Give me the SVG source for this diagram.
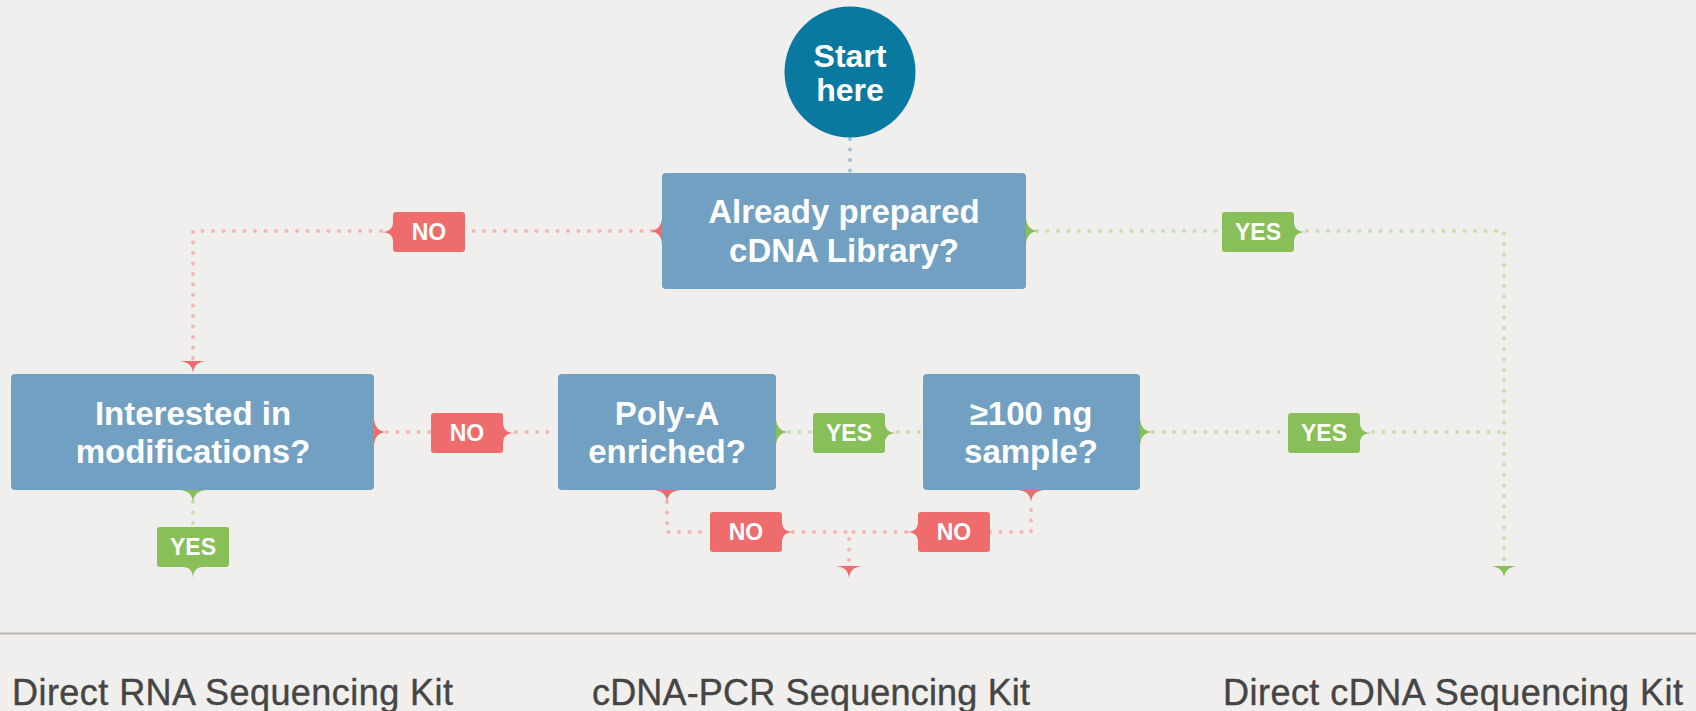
<svg xmlns="http://www.w3.org/2000/svg" xmlns:xlink="http://www.w3.org/1999/xlink" width="1696" height="711" viewBox="0 0 1696 711">
<style>
.bg{fill:#f0efed}
.box{fill:#72a0c2}
.start{fill:#0a79a0}
.nt{font-family:"Liberation Sans",Arial,sans-serif;font-weight:bold;font-size:33px;fill:#ffffff;text-anchor:middle}
.st{font-family:"Liberation Sans",Arial,sans-serif;font-weight:bold;font-size:32px;fill:#ffffff;text-anchor:middle}
.tt{font-family:"Liberation Sans",Arial,sans-serif;font-weight:bold;font-size:23px;fill:#ffffff;text-anchor:middle}
.kit{font-family:"Liberation Sans",Arial,sans-serif;font-size:36px;fill:#454545;stroke:#454545;stroke-width:0.4}
.dot{fill:none;stroke-width:4;stroke-linecap:round;stroke-dasharray:0 10.5}
.d-red{stroke:#f6b6b0}
.d-green{stroke:#c7e1ab}
.d-blue{stroke:#9fc0dc}
.red{fill:#ee6c6c}
.green{fill:#88bf58}
.sep{stroke:#bdb5ae;stroke-width:2}
</style>
<defs>
<path id="spike" d="M-13,0 Q-1,1 0,12 Q1,1 13,0 Z"/>
<path id="tag-l" d="M3,0 H69 Q72,0 72,3 V37 Q72,40 69,40 H3 Q0,40 0,37 V30 Q0,20 -12,20 Q0,20 0,10 V3 Q0,0 3,0 Z"/>
<path id="tag-r" d="M3,0 H69 Q72,0 72,3 V10 Q72,20 84,20 Q72,20 72,30 V37 Q72,40 69,40 H3 Q0,40 0,37 V3 Q0,0 3,0 Z"/>
<path id="tag-d" d="M3,0 H69 Q72,0 72,3 V37 Q72,40 69,40 H46 Q36,40 36,52 Q36,40 26,40 H3 Q0,40 0,37 V3 Q0,0 3,0 Z"/>
</defs>
<rect class="bg" x="0" y="0" width="1696" height="711"/>

<g id="connectors">
  <path class="dot d-blue" d="M850,139 V173"/>
  <path class="dot d-red" d="M652,231 H466"/>
  <path class="dot d-red" d="M381,231 H193 V360"/>
  <path class="dot d-green" d="M1037,231 H1222"/>
  <path class="dot d-green" d="M1307,231 H1504 V566"/>
  <path class="dot d-red" d="M387,432 H431"/>
  <path class="dot d-red" d="M516,432 H558"/>
  <path class="dot d-green" d="M789,432 H813"/>
  <path class="dot d-green" d="M898,432 H923"/>
  <path class="dot d-green" d="M1153,432 H1288"/>
  <path class="dot d-green" d="M1373,432 H1504"/>
  <path class="dot d-red" d="M667,502 V532 H710"/>
  <path class="dot d-red" d="M793,532 H849 V566"/>
  <path class="dot d-red" d="M906,532 H849"/>
  <path class="dot d-red" d="M990,532 H1031 V502"/>
  <path class="dot d-green" d="M193,502 V527"/>
  <g id="arrowheads">
    <use xlink:href="#spike" class="red" transform="translate(662,231) rotate(90)"/>
    <use xlink:href="#spike" class="green" transform="translate(1026,231) rotate(-90)"/>
    <use xlink:href="#spike" class="red" transform="translate(193,361)"/>
    <use xlink:href="#spike" class="red" transform="translate(374,432) rotate(-90)"/>
    <use xlink:href="#spike" class="green" transform="translate(193,490)"/>
    <use xlink:href="#spike" class="green" transform="translate(776,432) rotate(-90)"/>
    <use xlink:href="#spike" class="red" transform="translate(667,490)"/>
    <use xlink:href="#spike" class="green" transform="translate(1140,432) rotate(-90)"/>
    <use xlink:href="#spike" class="red" transform="translate(1031,490)"/>
    <use xlink:href="#spike" class="red" transform="translate(849,566)"/>
    <use xlink:href="#spike" class="green" transform="translate(1504,566)"/>
  </g>
  <g id="edge-labels">
    <use xlink:href="#tag-l" class="red" transform="translate(393,212)"/>
    <text class="tt" x="429" y="240">NO</text>
    <use xlink:href="#tag-r" class="green" transform="translate(1222,212)"/>
    <text class="tt" x="1258" y="240">YES</text>
    <use xlink:href="#tag-r" class="red" transform="translate(431,413)"/>
    <text class="tt" x="467" y="441">NO</text>
    <use xlink:href="#tag-r" class="green" transform="translate(813,413)"/>
    <text class="tt" x="849" y="441">YES</text>
    <use xlink:href="#tag-r" class="green" transform="translate(1288,413)"/>
    <text class="tt" x="1324" y="441">YES</text>
    <use xlink:href="#tag-r" class="red" transform="translate(710,512)"/>
    <text class="tt" x="746" y="540">NO</text>
    <use xlink:href="#tag-l" class="red" transform="translate(918,512)"/>
    <text class="tt" x="954" y="540">NO</text>
    <use xlink:href="#tag-d" class="green" transform="translate(157,527)"/>
    <text class="tt" x="193" y="555">YES</text>
  </g>
</g>

<g id="node-start">
  <circle class="start" cx="850" cy="72" r="65.5"/>
  <text class="st" x="850" y="67">Start</text>
  <text class="st" x="850" y="101">here</text>
</g>
<g id="node-cdna-library">
  <rect class="box" x="662" y="173" width="364" height="116" rx="4"/>
  <text class="nt" x="844" y="223">Already prepared</text>
  <text class="nt" x="844" y="262">cDNA Library?</text>
</g>
<g id="node-modifications">
  <rect class="box" x="11" y="374" width="363" height="116" rx="4"/>
  <text class="nt" x="193" y="425">Interested in</text>
  <text class="nt" x="193" y="463">modifications?</text>
</g>
<g id="node-polya">
  <rect class="box" x="558" y="374" width="218" height="116" rx="4"/>
  <text class="nt" x="667" y="425">Poly-A</text>
  <text class="nt" x="667" y="463">enriched?</text>
</g>
<g id="node-100ng">
  <rect class="box" x="923" y="374" width="217" height="116" rx="4"/>
  <text class="nt" x="1031" y="425">≥100 ng</text>
  <text class="nt" x="1031" y="463">sample?</text>
</g>

<line class="sep" x1="0" y1="633.5" x2="1696" y2="633.5"/>

<g id="kits">
  <text class="kit" x="12" y="705" textLength="441" lengthAdjust="spacing">Direct RNA Sequencing Kit</text>
  <text class="kit" x="592" y="705" textLength="438" lengthAdjust="spacing">cDNA-PCR Sequencing Kit</text>
  <text class="kit" x="1223" y="705" textLength="460" lengthAdjust="spacing">Direct cDNA Sequencing Kit</text>
</g>
</svg>
